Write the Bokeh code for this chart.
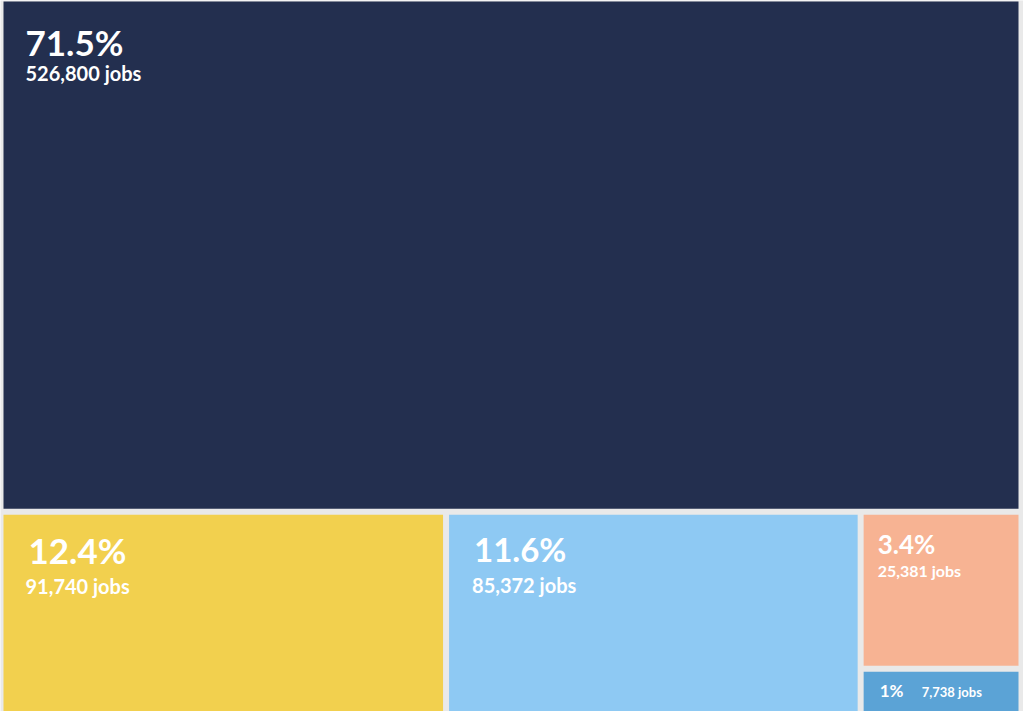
from bokeh.plotting import figure
from bokeh.models import ColumnDataSource, Range1d
from bokeh.core.properties import value
from bokeh.embed import file_html
from bokeh.resources import INLINE

# ---- data ----
categories = ["A", "B", "C", "D", "E"]
jobs = [526800, 91740, 85372, 25381, 7738]
pct_labels = ["71.5%", "12.4%", "11.6%", "3.4%", "1%"]
colors = ["#232f4f", "#f2d04e", "#8ec9f3", "#f7b393", "#5ba3d6"]

# ---- styling ----
BG = "#e9e9e9"
GAP = 3.0
pct_px = [35, 35, 33, 26, 17]
job_px = [20, 20, 20, 16, 13]
pct_dx = [22, 25, 25, 14, 16]
pct_dy = [54, 49, 48, 40, 26]
job_dx = [22, 22, 23, 14, 58]
job_dy = [79, 79, 78, 62, 26]
BASE_SHIFT = 0.4  # em, renderer baseline compensation

W, H = 1023, 711
bx0, by0, bx1, by1 = 0.0, -2.0, 1021.0, 716.0


def layout(vals, x0, y0, x1, y1):
    total = float(sum(vals))
    h0 = (y1 - y0) * vals[0] / total
    cells = [(x0, y0, x1, y0 + h0)]
    ry0 = y0 + h0
    rest = total - vals[0]
    w = x1 - x0
    cx = x0
    for v in vals[1:3]:
        cw = w * v / rest
        cells.append((cx, ry0, cx + cw, y1))
        cx += cw
    grp = vals[3] + vals[4]
    gh = (y1 - ry0) * vals[3] / grp
    cells.append((cx, ry0, x1, ry0 + gh))
    cells.append((cx, ry0 + gh, x1, y1))
    return cells


cells = layout(jobs, bx0, by0, bx1, by1)
left = [c[0] + GAP for c in cells]
right = [c[2] - GAP for c in cells]
top = [c[1] + GAP for c in cells]
bottom = [c[3] - GAP for c in cells]

p = figure(width=W, height=H, output_backend="svg", toolbar_location=None,
           x_range=Range1d(0, W), y_range=Range1d(H, 0),
           min_border=0, background_fill_color=BG, border_fill_color=BG,
           outline_line_color=None)
p.axis.visible = False
p.grid.visible = False

src = ColumnDataSource(dict(left=left, right=right, top=top, bottom=bottom,
                            color=colors, cat=categories))
p.quad(left="left", right="right", top="top", bottom="bottom",
       fill_color="color", line_color=None, source=src)

tsrc = ColumnDataSource(dict(
    x=[l + d for l, d in zip(left, pct_dx)],
    y=[t + d - BASE_SHIFT * s for t, d, s in zip(top, pct_dy, pct_px)],
    text=pct_labels, size=[f"{s}px" for s in pct_px]))
p.text(x="x", y="y", text="text", text_font_size="size", source=tsrc,
       text_font=value("Lato"), text_font_style="bold", text_color="white",
       text_baseline="alphabetic", text_align="left")

jsrc = ColumnDataSource(dict(
    x=[l + d for l, d in zip(left, job_dx)],
    y=[t + d - BASE_SHIFT * s for t, d, s in zip(top, job_dy, job_px)],
    text=[f"{v:,} jobs" for v in jobs], size=[f"{s}px" for s in job_px]))
p.text(x="x", y="y", text="text", text_font_size="size", source=jsrc,
       text_font=value("Lato"), text_font_style="bold", text_color="white",
       text_baseline="alphabetic", text_align="left")

open("out.html", "w").write(file_html(p, INLINE))
